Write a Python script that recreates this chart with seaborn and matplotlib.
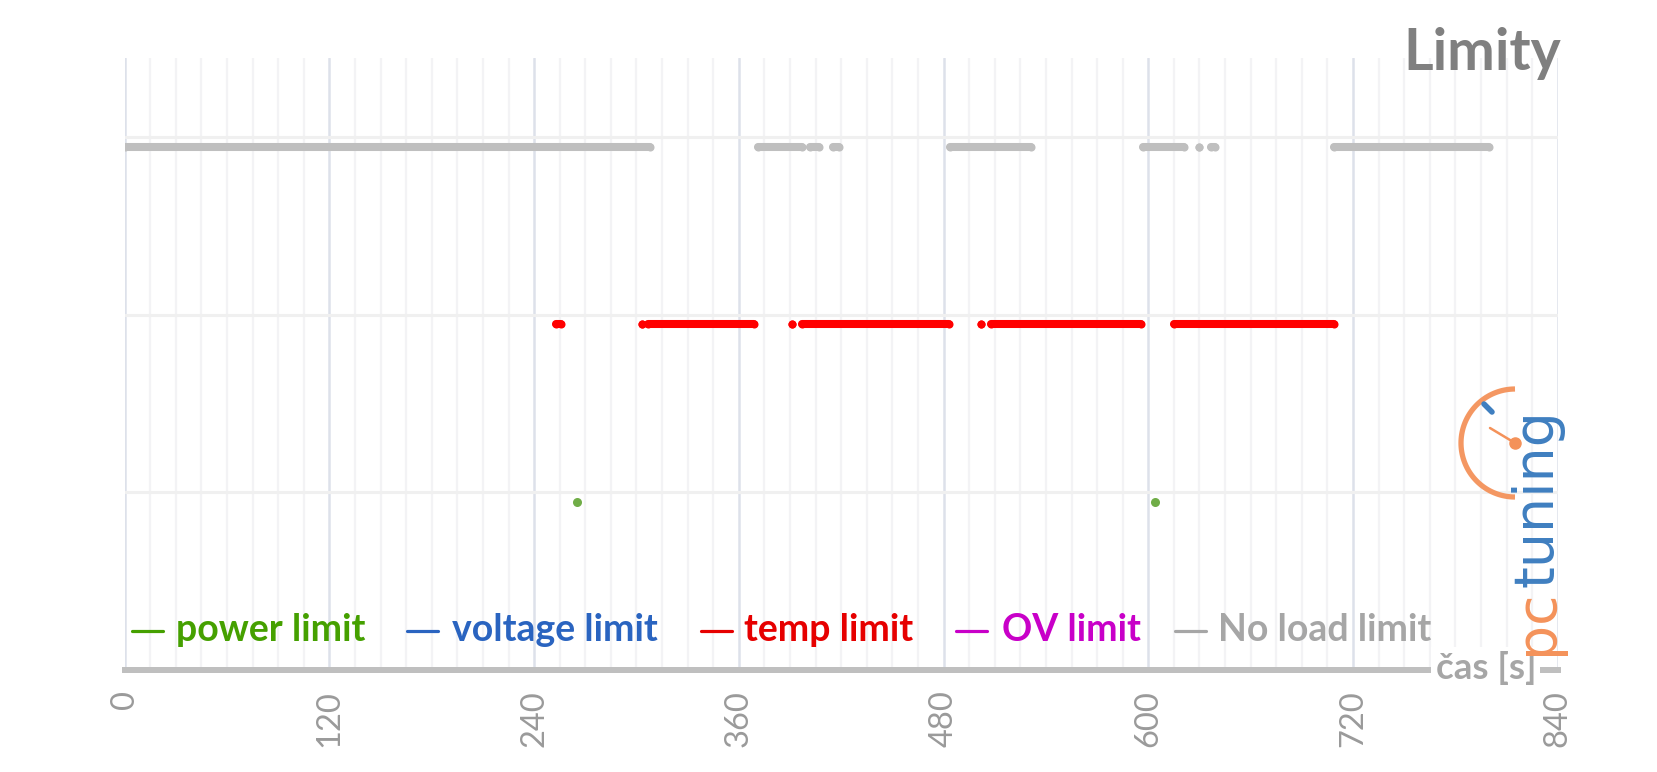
import numpy as np
import pandas as pd
import matplotlib
matplotlib.use("Agg")
import matplotlib.pyplot as plt
import seaborn as sns
from matplotlib.lines import Line2D

# ---------------- data (seconds when each limit was active) ----------------
no_load_start = [0, 371, 402, 415, 484, 597, 630, 637, 709]
no_load_end = [308, 397, 407, 419, 531, 621, 630, 639, 800]
temp_start = [253, 303, 307, 391, 397, 502, 508, 615]
temp_end = [256, 303, 369, 391, 483, 502, 596, 709]
power_times = [265, 604]
levels = {"power limit": 1, "temp limit": 2, "No load limit": 3}

legend_labels = ["power limit", "voltage limit", "temp limit", "OV limit", "No load limit"]
legend_colors = ["#45a000", "#2a64c0", "#e60000", "#c800c8", "#a6a6a6"]
x_ticks = [0, 120, 240, 360, 480, 600, 720, 840]

# ---------------- setup ----------------
sns.set_theme(style="white")
plt.rcParams["font.family"] = ["Lato", "DejaVu Sans"]

W, H = 1657, 772
fig = plt.figure(figsize=(W / 100, H / 100), dpi=100)
fig.patch.set_facecolor("white")
ax = fig.add_axes([124.7 / W, (H - 670) / H, (1557.7 - 124.7) / W, (670 - 58) / H])


def segs_df(starts, ends, level):
    rows = []
    for i, (s, e) in enumerate(zip(starts, ends)):
        rows.append((s, level, i))
        rows.append((e, level, i))
    return pd.DataFrame(rows, columns=["t", "level", "seg"])


lw = 5.8
for starts, ends, lev, col in [
    (no_load_start, no_load_end, levels["No load limit"], "#bfbfbf"),
    (temp_start, temp_end, levels["temp limit"], "#ff0000"),
]:
    df = segs_df(starts, ends, lev)
    sns.lineplot(data=df, x="t", y="level", units="seg", estimator=None,
                 color=col, linewidth=lw, legend=False, ax=ax, zorder=3)
    sns.scatterplot(data=df, x="t", y="level", color=col, s=lw ** 2,
                    linewidth=0, legend=False, ax=ax, zorder=3)

pw = pd.DataFrame({"t": power_times, "level": [levels["power limit"]] * len(power_times)})
sns.scatterplot(data=pw, x="t", y="level", color="#70ad47", s=6.5 ** 2,
                linewidth=0, legend=False, ax=ax, zorder=3)

# ---------------- axes styling ----------------
ax.set_xlim(0, 840)
ax.set_ylim(0.055, 3.5)
ax.set_xticks(x_ticks)
ax.set_xticklabels([str(v) for v in x_ticks], rotation=90)
ax.set_xticks(np.arange(0, 841, 15), minor=True)
ax.set_yticks([1.055, 2.055, 3.055])
ax.set_yticklabels([])
ax.set_xlabel("")
ax.set_ylabel("")
ax.set_axisbelow(True)
ax.grid(which="minor", axis="x", color="#f3f3f5", linewidth=1.6)
ax.grid(which="major", axis="x", color="#dde1ea", linewidth=1.8)
ax.grid(which="major", axis="y", color="#f0f0f0", linewidth=2.2)
for s in ["left", "top", "right"]:
    ax.spines[s].set_visible(False)
ax.spines["bottom"].set_color("#bfbfbf")
ax.spines["bottom"].set_linewidth(4.3)
ax.tick_params(axis="x", which="major", direction="out", length=6.5, width=3.6,
               color="#bfbfbf", labelcolor="#9a9a9a", labelsize=23.5, pad=8)
ax.tick_params(axis="x", which="minor", length=0)
ax.tick_params(axis="y", length=0)

# ---------------- legend (manual row) ----------------
dash_x = [132, 407, 701, 956, 1175]
text_x = [176, 452, 744, 1002, 1218]
legend_y = 641
for lab, col, dx, tx in zip(legend_labels, legend_colors, dash_x, text_x):
    fig.add_artist(Line2D([dx / W, (dx + 31) / W], [(H - 631) / H] * 2,
                          color=col, linewidth=2.3, transform=fig.transFigure))
    fig.text(tx / W, (H - legend_y) / H, lab, color=col, fontsize=27,
             fontweight="bold", ha="left", va="baseline")

# ---------------- title and axis label ----------------
fig.text(1561 / W, (H - 27) / H, "Limity", color="#808080", fontsize=41,
         fontweight="bold", ha="right", va="top")
fig.text(1536 / W, (H - 668) / H, "čas [s]", color="#a6a6a6", fontsize=26.5,
         fontweight="bold", ha="right", va="center",
         bbox=dict(facecolor="white", edgecolor="none", pad=3))

# ---------------- watermark logo ----------------
cx, cy, r = 1515, H - 443, 54
th = np.linspace(np.pi / 2, 3 * np.pi / 2, 100)
fig.add_artist(Line2D((cx + r * np.cos(th)) / W, (cy + r * np.sin(th)) / H,
                      color="#f4925a", linewidth=3.8, solid_capstyle="butt",
                      transform=fig.transFigure, alpha=0.95))
fig.add_artist(Line2D([cx / W, 1490 / W], [cy / H, (H - 428) / H], color="#f4925a",
                      linewidth=1.8, transform=fig.transFigure))
fig.add_artist(Line2D([cx / W], [cy / H], marker="o", markersize=8, color="#f4925a",
                      transform=fig.transFigure))
fig.add_artist(Line2D([1484 / W, 1492 / W], [(H - 404) / H, (H - 412) / H],
                      color="#3f7fc0", linewidth=4, transform=fig.transFigure))
renderer = fig.canvas.get_renderer()
t1 = fig.text(1552 / W, (H - 655) / H, "pc", color="#f4925a", fontsize=40,
              family="DejaVu Sans", rotation=90,
              rotation_mode="anchor", ha="left", va="baseline")
ext = t1.get_window_extent(renderer)
fig.text(1552 / W, (ext.y1 + 2) / H, "tuning", color="#3f7fc0", fontsize=40,
         family="DejaVu Sans", rotation=90,
         rotation_mode="anchor", ha="left", va="baseline")

fig.savefig("out.png", dpi=100, facecolor="white")
